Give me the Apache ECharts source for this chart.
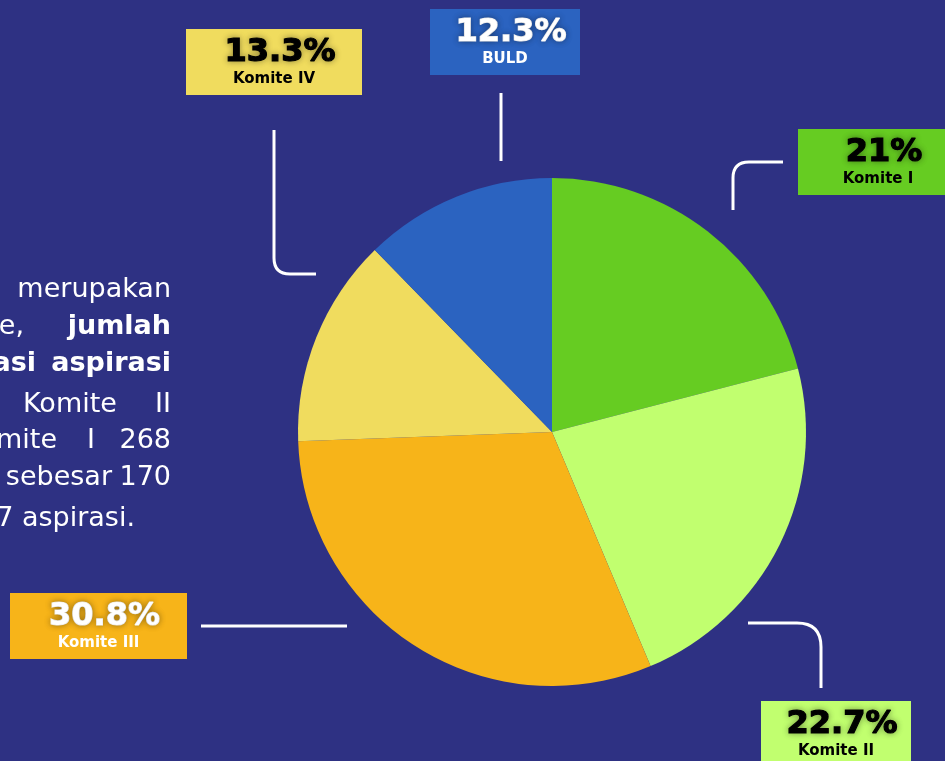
<!DOCTYPE html>
<html>
<head>
<meta charset="utf-8">
<script src="https://cdn.jsdelivr.net/npm/echarts@6/dist/echarts.min.js"></script>
<style>
html, body { margin: 0; padding: 0; background: #2E3183; }
#main { width: 945px; height: 761px; }
</style>
</head>
<body>
<div id="main"></div>
<script>
var categories = ['Komite I', 'Komite II', 'Komite III', 'Komite IV', 'BULD'];
var percents = [21, 22.7, 30.8, 13.3, 12.3];

var sliceColors = ['#66CC22', '#C1FF6F', '#F7B419', '#F0DC5E', '#2B63C0'];
var labelTextColors = ['#000', '#000', '#fff', '#000', '#fff'];
// kotak label: [x, y, lebar, tinggi]
var labelBoxes = [[798, 129, 160, 66], [761, 701, 150, 66], [10, 593, 177, 66], [186, 29, 176, 66], [430, 9, 150, 66]];
// garis penghubung: titik-titik + radius sudut
var connectors = [
    { pts: [[733, 210], [733, 162], [783, 162]], r: 16 },
    { pts: [[748, 623], [821, 623], [821, 688]], r: 24 },
    { pts: [[201, 626], [347, 626]], r: 0 },
    { pts: [[274, 130], [274, 274], [316, 274]], r: 16 },
    { pts: [[501, 93], [501, 161]], r: 0 }
];

// potongan paragraf kiri: [teks, x, y, align, tebal]
var paraWords = [
    ['merupakan', 171, 290, 'right', false],
    ['komite,', 24, 327, 'right', false],
    ['jumlah', 171, 327, 'right', true],
    ['realisasi', 36, 364, 'right', true],
    ['aspirasi', 171, 364, 'right', true],
    ['Komite', 23, 405, 'left', false],
    ['II', 171, 405, 'right', false],
    ['Komite', 57, 441, 'right', false],
    ['I', 91, 441, 'center', false],
    ['268', 171, 441, 'right', false],
    ['sebesar', 112, 478, 'right', false],
    ['170', 171, 478, 'right', false],
    ['1277 aspirasi.', 135, 519, 'right', false]
];

var chart = echarts.init(document.getElementById('main'));

var pieData = [];
for (var i = 0; i < categories.length; i++) {
    pieData.push({ name: categories[i], value: percents[i], itemStyle: { color: sliceColors[i] } });
}

var lineStyle = { stroke: '#fff', lineWidth: 3, fill: null };

function connectorShapes(c) {
    var out = [];
    var p = c.pts;
    if (p.length == 2) {
        out.push({ type: 'line', shape: { x1: p[0][0], y1: p[0][1], x2: p[1][0], y2: p[1][1] }, style: lineStyle });
        return out;
    }
    var a = p[0], m = p[1], b = p[2];
    var d1 = [Math.sign(m[0] - a[0]), Math.sign(m[1] - a[1])];
    var d2 = [Math.sign(b[0] - m[0]), Math.sign(b[1] - m[1])];
    var s = [m[0] - d1[0] * c.r, m[1] - d1[1] * c.r];
    var e = [m[0] + d2[0] * c.r, m[1] + d2[1] * c.r];
    out.push({ type: 'line', shape: { x1: a[0], y1: a[1], x2: s[0], y2: s[1] }, style: lineStyle });
    out.push({ type: 'bezierCurve', shape: { x1: s[0], y1: s[1], x2: e[0], y2: e[1], cpx1: m[0], cpy1: m[1] }, style: lineStyle });
    out.push({ type: 'line', shape: { x1: e[0], y1: e[1], x2: b[0], y2: b[1] }, style: lineStyle });
    return out;
}

var graphics = [];
for (var i = 0; i < categories.length; i++) {
    var b = labelBoxes[i];
    graphics.push({
        type: 'rect',
        shape: { x: b[0], y: b[1], width: b[2], height: b[3] },
        style: { fill: sliceColors[i] }
    });
    graphics.push({
        type: 'text',
        style: {
            text: percents[i] + '%',
            x: b[0] + b[2] / 2 + 6, y: b[1] + 24,
            align: 'center', verticalAlign: 'middle',
            textAlign: 'center', textVerticalAlign: 'middle',
            font: 'bold 32px "DejaVu Sans"',
            fill: labelTextColors[i],
            stroke: labelTextColors[i], lineWidth: 1.2,
            textShadowColor: 'rgba(0,0,0,0.35)', textShadowBlur: 6
        }
    });
    graphics.push({
        type: 'text',
        style: {
            text: categories[i],
            x: b[0] + b[2] / 2, y: b[1] + 50,
            align: 'center', verticalAlign: 'middle',
            textAlign: 'center', textVerticalAlign: 'middle',
            font: 'bold 15px "DejaVu Sans"',
            fill: labelTextColors[i]
        }
    });
    graphics = graphics.concat(connectorShapes(connectors[i]));
}

for (var j = 0; j < paraWords.length; j++) {
    var w = paraWords[j];
    graphics.push({
        type: 'text',
        style: {
            text: w[0], x: w[1], y: w[2],
            align: w[3], verticalAlign: 'middle',
            textAlign: w[3], textVerticalAlign: 'middle',
            font: (w[4] ? 'bold ' : '') + '27px "DejaVu Sans"',
            fill: '#fff'
        }
    });
}

chart.setOption({
    backgroundColor: '#2E3183',
    animation: false,
    series: [{
        type: 'pie',
        center: [552, 432],
        radius: 254,
        startAngle: 90,
        clockwise: true,
        silent: true,
        label: { show: false },
        labelLine: { show: false },
        data: pieData
    }],
    graphic: graphics
});
</script>
</body>
</html>
